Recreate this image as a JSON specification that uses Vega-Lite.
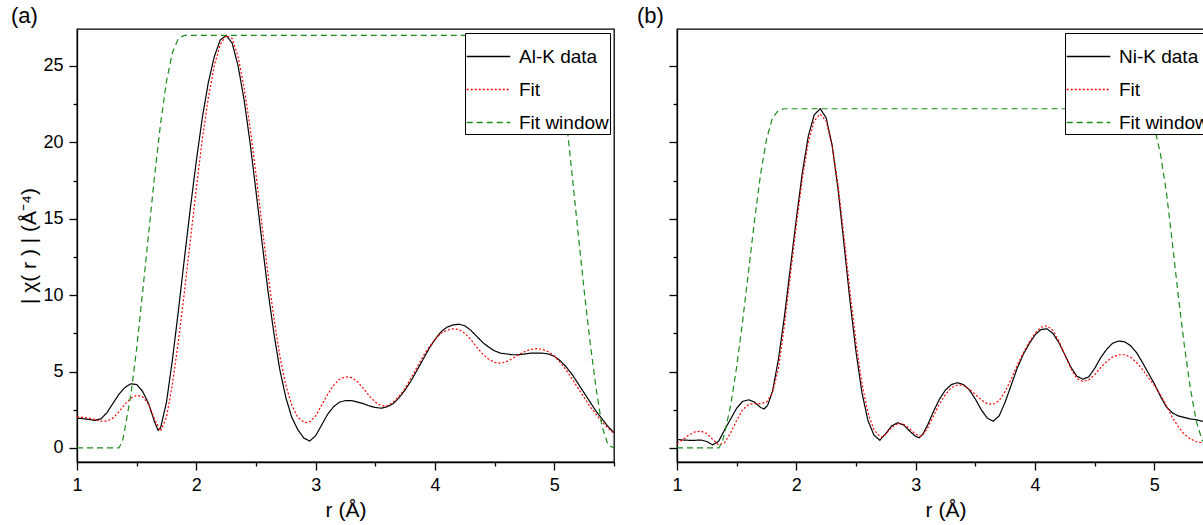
{
  "$schema": "https://vega.github.io/schema/vega-lite/v6.json",
  "padding": {"left": 10, "top": 4, "right": 0, "bottom": 0},
  "background": "white",
  "config": {
    "font": "Liberation Sans",
    "view": {"stroke": "#000", "strokeWidth": 1.3},
    "axis": {"domainColor": "#000", "domainWidth": 1.3, "tickColor": "#000", "tickWidth": 1.3, "labelColor": "#000", "labelFontSize": 18, "labelPadding": 6, "titleFontSize": 21, "titleFontWeight": "normal", "titleColor": "#000", "grid": false, "labelOverlap": false, "labelFlush": false},
    "title": {"fontSize": 22, "fontWeight": "normal", "color": "#000", "anchor": "start", "frame": "group"}
  },
  "spacing": 20,
  "resolve": {"scale": {"color": "independent", "strokeDash": "independent"}, "legend": {"color": "independent", "strokeDash": "independent"}},
  "datasets": {
    "al": [
      {"s": "Al-K data", "r": 1.00, "v": 1.95}, {"s": "Al-K data", "r": 1.05, "v": 1.92}, {"s": "Al-K data", "r": 1.10, "v": 1.86}, {"s": "Al-K data", "r": 1.15, "v": 1.81}, {"s": "Al-K data", "r": 1.20, "v": 1.9}, {"s": "Al-K data", "r": 1.25, "v": 2.3}, {"s": "Al-K data", "r": 1.30, "v": 2.9}, {"s": "Al-K data", "r": 1.35, "v": 3.5}, {"s": "Al-K data", "r": 1.40, "v": 3.95}, {"s": "Al-K data", "r": 1.45, "v": 4.2}, {"s": "Al-K data", "r": 1.50, "v": 4.15}, {"s": "Al-K data", "r": 1.55, "v": 3.7}, {"s": "Al-K data", "r": 1.60, "v": 2.9}, {"s": "Al-K data", "r": 1.65, "v": 1.7}, {"s": "Al-K data", "r": 1.68, "v": 1.15}, {"s": "Al-K data", "r": 1.70, "v": 1.3}, {"s": "Al-K data", "r": 1.75, "v": 3.0}, {"s": "Al-K data", "r": 1.80, "v": 5.8}, {"s": "Al-K data", "r": 1.85, "v": 9.0}, {"s": "Al-K data", "r": 1.90, "v": 12.4}, {"s": "Al-K data", "r": 1.95, "v": 15.7}, {"s": "Al-K data", "r": 2.00, "v": 18.8}, {"s": "Al-K data", "r": 2.05, "v": 21.6}, {"s": "Al-K data", "r": 2.10, "v": 23.9}, {"s": "Al-K data", "r": 2.15, "v": 25.6}, {"s": "Al-K data", "r": 2.20, "v": 26.7}, {"s": "Al-K data", "r": 2.25, "v": 27.0}, {"s": "Al-K data", "r": 2.30, "v": 26.5}, {"s": "Al-K data", "r": 2.35, "v": 25.0}, {"s": "Al-K data", "r": 2.40, "v": 22.8}, {"s": "Al-K data", "r": 2.45, "v": 20.0}, {"s": "Al-K data", "r": 2.50, "v": 16.8}, {"s": "Al-K data", "r": 2.55, "v": 13.5}, {"s": "Al-K data", "r": 2.60, "v": 10.3}, {"s": "Al-K data", "r": 2.65, "v": 7.5}, {"s": "Al-K data", "r": 2.70, "v": 5.1}, {"s": "Al-K data", "r": 2.75, "v": 3.3}, {"s": "Al-K data", "r": 2.80, "v": 2.0}, {"s": "Al-K data", "r": 2.85, "v": 1.2}, {"s": "Al-K data", "r": 2.90, "v": 0.65}, {"s": "Al-K data", "r": 2.95, "v": 0.45}, {"s": "Al-K data", "r": 3.00, "v": 0.8}, {"s": "Al-K data", "r": 3.05, "v": 1.5}, {"s": "Al-K data", "r": 3.10, "v": 2.2}, {"s": "Al-K data", "r": 3.15, "v": 2.7}, {"s": "Al-K data", "r": 3.20, "v": 3.0}, {"s": "Al-K data", "r": 3.25, "v": 3.1}, {"s": "Al-K data", "r": 3.30, "v": 3.1}, {"s": "Al-K data", "r": 3.35, "v": 3.0}, {"s": "Al-K data", "r": 3.40, "v": 2.9}, {"s": "Al-K data", "r": 3.45, "v": 2.75}, {"s": "Al-K data", "r": 3.50, "v": 2.65}, {"s": "Al-K data", "r": 3.55, "v": 2.6}, {"s": "Al-K data", "r": 3.60, "v": 2.7}, {"s": "Al-K data", "r": 3.65, "v": 2.9}, {"s": "Al-K data", "r": 3.70, "v": 3.3}, {"s": "Al-K data", "r": 3.75, "v": 3.8}, {"s": "Al-K data", "r": 3.80, "v": 4.4}, {"s": "Al-K data", "r": 3.85, "v": 5.1}, {"s": "Al-K data", "r": 3.90, "v": 5.8}, {"s": "Al-K data", "r": 3.95, "v": 6.5}, {"s": "Al-K data", "r": 4.00, "v": 7.1}, {"s": "Al-K data", "r": 4.05, "v": 7.6}, {"s": "Al-K data", "r": 4.10, "v": 7.9}, {"s": "Al-K data", "r": 4.15, "v": 8.05}, {"s": "Al-K data", "r": 4.20, "v": 8.1}, {"s": "Al-K data", "r": 4.25, "v": 8.0}, {"s": "Al-K data", "r": 4.30, "v": 7.7}, {"s": "Al-K data", "r": 4.35, "v": 7.3}, {"s": "Al-K data", "r": 4.40, "v": 6.9}, {"s": "Al-K data", "r": 4.45, "v": 6.6}, {"s": "Al-K data", "r": 4.50, "v": 6.35}, {"s": "Al-K data", "r": 4.55, "v": 6.2}, {"s": "Al-K data", "r": 4.60, "v": 6.15}, {"s": "Al-K data", "r": 4.65, "v": 6.1}, {"s": "Al-K data", "r": 4.70, "v": 6.1}, {"s": "Al-K data", "r": 4.75, "v": 6.15}, {"s": "Al-K data", "r": 4.80, "v": 6.2}, {"s": "Al-K data", "r": 4.85, "v": 6.2}, {"s": "Al-K data", "r": 4.90, "v": 6.2}, {"s": "Al-K data", "r": 4.95, "v": 6.15}, {"s": "Al-K data", "r": 5.00, "v": 6.0}, {"s": "Al-K data", "r": 5.05, "v": 5.7}, {"s": "Al-K data", "r": 5.10, "v": 5.3}, {"s": "Al-K data", "r": 5.15, "v": 4.8}, {"s": "Al-K data", "r": 5.20, "v": 4.2}, {"s": "Al-K data", "r": 5.25, "v": 3.6}, {"s": "Al-K data", "r": 5.30, "v": 3.0}, {"s": "Al-K data", "r": 5.35, "v": 2.4}, {"s": "Al-K data", "r": 5.40, "v": 1.9}, {"s": "Al-K data", "r": 5.45, "v": 1.4}, {"s": "Al-K data", "r": 5.50, "v": 1.0},
      {"s": "Fit", "r": 1.00, "v": 2.05}, {"s": "Fit", "r": 1.05, "v": 2.0}, {"s": "Fit", "r": 1.10, "v": 1.95}, {"s": "Fit", "r": 1.15, "v": 1.85}, {"s": "Fit", "r": 1.20, "v": 1.75}, {"s": "Fit", "r": 1.25, "v": 1.75}, {"s": "Fit", "r": 1.30, "v": 1.95}, {"s": "Fit", "r": 1.35, "v": 2.35}, {"s": "Fit", "r": 1.40, "v": 2.85}, {"s": "Fit", "r": 1.45, "v": 3.25}, {"s": "Fit", "r": 1.50, "v": 3.45}, {"s": "Fit", "r": 1.55, "v": 3.35}, {"s": "Fit", "r": 1.60, "v": 2.85}, {"s": "Fit", "r": 1.65, "v": 1.9}, {"s": "Fit", "r": 1.70, "v": 1.1}, {"s": "Fit", "r": 1.75, "v": 2.0}, {"s": "Fit", "r": 1.80, "v": 4.2}, {"s": "Fit", "r": 1.85, "v": 7.0}, {"s": "Fit", "r": 1.90, "v": 10.2}, {"s": "Fit", "r": 1.95, "v": 13.6}, {"s": "Fit", "r": 2.00, "v": 17.0}, {"s": "Fit", "r": 2.05, "v": 20.2}, {"s": "Fit", "r": 2.10, "v": 22.9}, {"s": "Fit", "r": 2.15, "v": 25.0}, {"s": "Fit", "r": 2.20, "v": 26.4}, {"s": "Fit", "r": 2.25, "v": 27.0}, {"s": "Fit", "r": 2.30, "v": 26.8}, {"s": "Fit", "r": 2.35, "v": 25.6}, {"s": "Fit", "r": 2.40, "v": 23.6}, {"s": "Fit", "r": 2.45, "v": 21.0}, {"s": "Fit", "r": 2.50, "v": 17.9}, {"s": "Fit", "r": 2.55, "v": 14.6}, {"s": "Fit", "r": 2.60, "v": 11.4}, {"s": "Fit", "r": 2.65, "v": 8.5}, {"s": "Fit", "r": 2.70, "v": 6.0}, {"s": "Fit", "r": 2.75, "v": 4.1}, {"s": "Fit", "r": 2.80, "v": 2.8}, {"s": "Fit", "r": 2.85, "v": 2.0}, {"s": "Fit", "r": 2.90, "v": 1.7}, {"s": "Fit", "r": 2.93, "v": 1.65}, {"s": "Fit", "r": 2.96, "v": 1.75}, {"s": "Fit", "r": 3.00, "v": 2.1}, {"s": "Fit", "r": 3.05, "v": 2.8}, {"s": "Fit", "r": 3.10, "v": 3.5}, {"s": "Fit", "r": 3.15, "v": 4.1}, {"s": "Fit", "r": 3.20, "v": 4.5}, {"s": "Fit", "r": 3.25, "v": 4.65}, {"s": "Fit", "r": 3.30, "v": 4.6}, {"s": "Fit", "r": 3.35, "v": 4.35}, {"s": "Fit", "r": 3.40, "v": 3.9}, {"s": "Fit", "r": 3.45, "v": 3.4}, {"s": "Fit", "r": 3.50, "v": 3.0}, {"s": "Fit", "r": 3.55, "v": 2.75}, {"s": "Fit", "r": 3.60, "v": 2.75}, {"s": "Fit", "r": 3.65, "v": 3.0}, {"s": "Fit", "r": 3.70, "v": 3.4}, {"s": "Fit", "r": 3.75, "v": 3.9}, {"s": "Fit", "r": 3.80, "v": 4.6}, {"s": "Fit", "r": 3.85, "v": 5.3}, {"s": "Fit", "r": 3.90, "v": 6.0}, {"s": "Fit", "r": 3.95, "v": 6.6}, {"s": "Fit", "r": 4.00, "v": 7.1}, {"s": "Fit", "r": 4.05, "v": 7.5}, {"s": "Fit", "r": 4.10, "v": 7.7}, {"s": "Fit", "r": 4.15, "v": 7.8}, {"s": "Fit", "r": 4.20, "v": 7.75}, {"s": "Fit", "r": 4.25, "v": 7.5}, {"s": "Fit", "r": 4.30, "v": 7.1}, {"s": "Fit", "r": 4.35, "v": 6.6}, {"s": "Fit", "r": 4.40, "v": 6.15}, {"s": "Fit", "r": 4.45, "v": 5.8}, {"s": "Fit", "r": 4.50, "v": 5.6}, {"s": "Fit", "r": 4.55, "v": 5.55}, {"s": "Fit", "r": 4.60, "v": 5.65}, {"s": "Fit", "r": 4.65, "v": 5.85}, {"s": "Fit", "r": 4.70, "v": 6.1}, {"s": "Fit", "r": 4.75, "v": 6.3}, {"s": "Fit", "r": 4.80, "v": 6.45}, {"s": "Fit", "r": 4.85, "v": 6.5}, {"s": "Fit", "r": 4.90, "v": 6.45}, {"s": "Fit", "r": 4.95, "v": 6.3}, {"s": "Fit", "r": 5.00, "v": 6.0}, {"s": "Fit", "r": 5.05, "v": 5.6}, {"s": "Fit", "r": 5.10, "v": 5.1}, {"s": "Fit", "r": 5.15, "v": 4.5}, {"s": "Fit", "r": 5.20, "v": 3.9}, {"s": "Fit", "r": 5.25, "v": 3.3}, {"s": "Fit", "r": 5.30, "v": 2.7}, {"s": "Fit", "r": 5.35, "v": 2.2}, {"s": "Fit", "r": 5.40, "v": 1.7}, {"s": "Fit", "r": 5.45, "v": 1.3}, {"s": "Fit", "r": 5.50, "v": 0.95},
      {"s": "Fit window", "r": 1.00, "v": 0}, {"s": "Fit window", "r": 1.35, "v": 0}, {"s": "Fit window", "r": 1.38, "v": 0.4}, {"s": "Fit window", "r": 1.40, "v": 1.2}, {"s": "Fit window", "r": 1.45, "v": 3.4}, {"s": "Fit window", "r": 1.50, "v": 6.5}, {"s": "Fit window", "r": 1.55, "v": 10.2}, {"s": "Fit window", "r": 1.60, "v": 14.0}, {"s": "Fit window", "r": 1.65, "v": 17.8}, {"s": "Fit window", "r": 1.70, "v": 21.2}, {"s": "Fit window", "r": 1.75, "v": 24.0}, {"s": "Fit window", "r": 1.80, "v": 25.9}, {"s": "Fit window", "r": 1.85, "v": 26.8}, {"s": "Fit window", "r": 1.90, "v": 27.0}, {"s": "Fit window", "r": 5.00, "v": 27.0}, {"s": "Fit window", "r": 5.02, "v": 26.8}, {"s": "Fit window", "r": 5.05, "v": 25.8}, {"s": "Fit window", "r": 5.10, "v": 21.5}, {"s": "Fit window", "r": 5.15, "v": 17.8}, {"s": "Fit window", "r": 5.20, "v": 14.0}, {"s": "Fit window", "r": 5.25, "v": 10.3}, {"s": "Fit window", "r": 5.30, "v": 6.9}, {"s": "Fit window", "r": 5.35, "v": 3.9}, {"s": "Fit window", "r": 5.40, "v": 1.4}, {"s": "Fit window", "r": 5.45, "v": 0.2}, {"s": "Fit window", "r": 5.50, "v": 0}
    ],
    "ni": [
      {"s": "Ni-K data", "r": 1.00, "v": 0.55}, {"s": "Ni-K data", "r": 1.05, "v": 0.52}, {"s": "Ni-K data", "r": 1.10, "v": 0.5}, {"s": "Ni-K data", "r": 1.15, "v": 0.5}, {"s": "Ni-K data", "r": 1.20, "v": 0.52}, {"s": "Ni-K data", "r": 1.25, "v": 0.42}, {"s": "Ni-K data", "r": 1.30, "v": 0.2}, {"s": "Ni-K data", "r": 1.35, "v": 0.45}, {"s": "Ni-K data", "r": 1.40, "v": 1.2}, {"s": "Ni-K data", "r": 1.45, "v": 1.9}, {"s": "Ni-K data", "r": 1.50, "v": 2.6}, {"s": "Ni-K data", "r": 1.55, "v": 3.05}, {"s": "Ni-K data", "r": 1.60, "v": 3.15}, {"s": "Ni-K data", "r": 1.65, "v": 3.0}, {"s": "Ni-K data", "r": 1.70, "v": 2.65}, {"s": "Ni-K data", "r": 1.73, "v": 2.55}, {"s": "Ni-K data", "r": 1.76, "v": 2.8}, {"s": "Ni-K data", "r": 1.80, "v": 3.7}, {"s": "Ni-K data", "r": 1.85, "v": 5.8}, {"s": "Ni-K data", "r": 1.90, "v": 8.6}, {"s": "Ni-K data", "r": 1.95, "v": 11.8}, {"s": "Ni-K data", "r": 2.00, "v": 15.0}, {"s": "Ni-K data", "r": 2.05, "v": 18.0}, {"s": "Ni-K data", "r": 2.10, "v": 20.4}, {"s": "Ni-K data", "r": 2.15, "v": 21.8}, {"s": "Ni-K data", "r": 2.20, "v": 22.2}, {"s": "Ni-K data", "r": 2.25, "v": 21.6}, {"s": "Ni-K data", "r": 2.30, "v": 19.8}, {"s": "Ni-K data", "r": 2.35, "v": 16.9}, {"s": "Ni-K data", "r": 2.40, "v": 13.3}, {"s": "Ni-K data", "r": 2.45, "v": 9.6}, {"s": "Ni-K data", "r": 2.50, "v": 6.3}, {"s": "Ni-K data", "r": 2.55, "v": 3.6}, {"s": "Ni-K data", "r": 2.60, "v": 1.8}, {"s": "Ni-K data", "r": 2.65, "v": 0.85}, {"s": "Ni-K data", "r": 2.70, "v": 0.5}, {"s": "Ni-K data", "r": 2.75, "v": 0.95}, {"s": "Ni-K data", "r": 2.80, "v": 1.45}, {"s": "Ni-K data", "r": 2.85, "v": 1.65}, {"s": "Ni-K data", "r": 2.90, "v": 1.5}, {"s": "Ni-K data", "r": 2.95, "v": 1.1}, {"s": "Ni-K data", "r": 3.00, "v": 0.75}, {"s": "Ni-K data", "r": 3.03, "v": 0.67}, {"s": "Ni-K data", "r": 3.06, "v": 0.9}, {"s": "Ni-K data", "r": 3.10, "v": 1.5}, {"s": "Ni-K data", "r": 3.15, "v": 2.4}, {"s": "Ni-K data", "r": 3.20, "v": 3.2}, {"s": "Ni-K data", "r": 3.25, "v": 3.8}, {"s": "Ni-K data", "r": 3.30, "v": 4.15}, {"s": "Ni-K data", "r": 3.35, "v": 4.27}, {"s": "Ni-K data", "r": 3.40, "v": 4.15}, {"s": "Ni-K data", "r": 3.45, "v": 3.8}, {"s": "Ni-K data", "r": 3.50, "v": 3.2}, {"s": "Ni-K data", "r": 3.55, "v": 2.5}, {"s": "Ni-K data", "r": 3.60, "v": 1.95}, {"s": "Ni-K data", "r": 3.65, "v": 1.75}, {"s": "Ni-K data", "r": 3.70, "v": 2.1}, {"s": "Ni-K data", "r": 3.75, "v": 3.0}, {"s": "Ni-K data", "r": 3.80, "v": 4.1}, {"s": "Ni-K data", "r": 3.85, "v": 5.2}, {"s": "Ni-K data", "r": 3.90, "v": 6.1}, {"s": "Ni-K data", "r": 3.95, "v": 6.8}, {"s": "Ni-K data", "r": 4.00, "v": 7.4}, {"s": "Ni-K data", "r": 4.05, "v": 7.75}, {"s": "Ni-K data", "r": 4.10, "v": 7.8}, {"s": "Ni-K data", "r": 4.15, "v": 7.5}, {"s": "Ni-K data", "r": 4.20, "v": 6.9}, {"s": "Ni-K data", "r": 4.25, "v": 6.1}, {"s": "Ni-K data", "r": 4.30, "v": 5.3}, {"s": "Ni-K data", "r": 4.35, "v": 4.7}, {"s": "Ni-K data", "r": 4.40, "v": 4.5}, {"s": "Ni-K data", "r": 4.45, "v": 4.65}, {"s": "Ni-K data", "r": 4.50, "v": 5.2}, {"s": "Ni-K data", "r": 4.55, "v": 5.9}, {"s": "Ni-K data", "r": 4.60, "v": 6.45}, {"s": "Ni-K data", "r": 4.65, "v": 6.85}, {"s": "Ni-K data", "r": 4.70, "v": 7.0}, {"s": "Ni-K data", "r": 4.75, "v": 6.95}, {"s": "Ni-K data", "r": 4.80, "v": 6.7}, {"s": "Ni-K data", "r": 4.85, "v": 6.25}, {"s": "Ni-K data", "r": 4.90, "v": 5.6}, {"s": "Ni-K data", "r": 4.95, "v": 4.9}, {"s": "Ni-K data", "r": 5.00, "v": 4.2}, {"s": "Ni-K data", "r": 5.05, "v": 3.4}, {"s": "Ni-K data", "r": 5.10, "v": 2.7}, {"s": "Ni-K data", "r": 5.15, "v": 2.3}, {"s": "Ni-K data", "r": 5.20, "v": 2.1}, {"s": "Ni-K data", "r": 5.25, "v": 2.0}, {"s": "Ni-K data", "r": 5.30, "v": 1.9}, {"s": "Ni-K data", "r": 5.35, "v": 1.85}, {"s": "Ni-K data", "r": 5.40, "v": 1.75}, {"s": "Ni-K data", "r": 5.45, "v": 1.7}, {"s": "Ni-K data", "r": 5.50, "v": 1.6},
      {"s": "Fit", "r": 1.00, "v": 0.3}, {"s": "Fit", "r": 1.05, "v": 0.55}, {"s": "Fit", "r": 1.10, "v": 0.85}, {"s": "Fit", "r": 1.15, "v": 1.05}, {"s": "Fit", "r": 1.20, "v": 1.1}, {"s": "Fit", "r": 1.25, "v": 0.95}, {"s": "Fit", "r": 1.30, "v": 0.55}, {"s": "Fit", "r": 1.35, "v": 0.2}, {"s": "Fit", "r": 1.40, "v": 0.35}, {"s": "Fit", "r": 1.45, "v": 1.0}, {"s": "Fit", "r": 1.50, "v": 1.8}, {"s": "Fit", "r": 1.55, "v": 2.5}, {"s": "Fit", "r": 1.60, "v": 2.85}, {"s": "Fit", "r": 1.65, "v": 2.9}, {"s": "Fit", "r": 1.70, "v": 2.9}, {"s": "Fit", "r": 1.75, "v": 3.0}, {"s": "Fit", "r": 1.80, "v": 3.6}, {"s": "Fit", "r": 1.85, "v": 5.2}, {"s": "Fit", "r": 1.90, "v": 8.0}, {"s": "Fit", "r": 1.95, "v": 11.3}, {"s": "Fit", "r": 2.00, "v": 14.6}, {"s": "Fit", "r": 2.05, "v": 17.6}, {"s": "Fit", "r": 2.10, "v": 20.0}, {"s": "Fit", "r": 2.15, "v": 21.4}, {"s": "Fit", "r": 2.20, "v": 21.85}, {"s": "Fit", "r": 2.25, "v": 21.4}, {"s": "Fit", "r": 2.30, "v": 19.8}, {"s": "Fit", "r": 2.35, "v": 17.2}, {"s": "Fit", "r": 2.40, "v": 13.8}, {"s": "Fit", "r": 2.45, "v": 10.2}, {"s": "Fit", "r": 2.50, "v": 6.9}, {"s": "Fit", "r": 2.55, "v": 4.2}, {"s": "Fit", "r": 2.60, "v": 2.3}, {"s": "Fit", "r": 2.65, "v": 1.2}, {"s": "Fit", "r": 2.70, "v": 0.75}, {"s": "Fit", "r": 2.72, "v": 0.7}, {"s": "Fit", "r": 2.75, "v": 0.9}, {"s": "Fit", "r": 2.80, "v": 1.35}, {"s": "Fit", "r": 2.85, "v": 1.6}, {"s": "Fit", "r": 2.90, "v": 1.55}, {"s": "Fit", "r": 2.95, "v": 1.25}, {"s": "Fit", "r": 3.00, "v": 0.9}, {"s": "Fit", "r": 3.04, "v": 0.76}, {"s": "Fit", "r": 3.07, "v": 0.95}, {"s": "Fit", "r": 3.10, "v": 1.3}, {"s": "Fit", "r": 3.15, "v": 2.1}, {"s": "Fit", "r": 3.20, "v": 2.9}, {"s": "Fit", "r": 3.25, "v": 3.5}, {"s": "Fit", "r": 3.30, "v": 3.95}, {"s": "Fit", "r": 3.35, "v": 4.12}, {"s": "Fit", "r": 3.40, "v": 4.1}, {"s": "Fit", "r": 3.45, "v": 3.85}, {"s": "Fit", "r": 3.50, "v": 3.5}, {"s": "Fit", "r": 3.55, "v": 3.15}, {"s": "Fit", "r": 3.60, "v": 2.9}, {"s": "Fit", "r": 3.65, "v": 2.86}, {"s": "Fit", "r": 3.70, "v": 3.1}, {"s": "Fit", "r": 3.75, "v": 3.7}, {"s": "Fit", "r": 3.80, "v": 4.5}, {"s": "Fit", "r": 3.85, "v": 5.4}, {"s": "Fit", "r": 3.90, "v": 6.2}, {"s": "Fit", "r": 3.95, "v": 6.9}, {"s": "Fit", "r": 4.00, "v": 7.5}, {"s": "Fit", "r": 4.05, "v": 7.9}, {"s": "Fit", "r": 4.10, "v": 8.0}, {"s": "Fit", "r": 4.15, "v": 7.7}, {"s": "Fit", "r": 4.20, "v": 7.0}, {"s": "Fit", "r": 4.25, "v": 6.1}, {"s": "Fit", "r": 4.30, "v": 5.2}, {"s": "Fit", "r": 4.35, "v": 4.55}, {"s": "Fit", "r": 4.40, "v": 4.35}, {"s": "Fit", "r": 4.45, "v": 4.45}, {"s": "Fit", "r": 4.50, "v": 4.8}, {"s": "Fit", "r": 4.55, "v": 5.25}, {"s": "Fit", "r": 4.60, "v": 5.65}, {"s": "Fit", "r": 4.65, "v": 5.95}, {"s": "Fit", "r": 4.70, "v": 6.1}, {"s": "Fit", "r": 4.75, "v": 6.1}, {"s": "Fit", "r": 4.80, "v": 5.95}, {"s": "Fit", "r": 4.85, "v": 5.6}, {"s": "Fit", "r": 4.90, "v": 5.15}, {"s": "Fit", "r": 4.95, "v": 4.6}, {"s": "Fit", "r": 5.00, "v": 4.1}, {"s": "Fit", "r": 5.05, "v": 3.5}, {"s": "Fit", "r": 5.10, "v": 2.8}, {"s": "Fit", "r": 5.15, "v": 2.0}, {"s": "Fit", "r": 5.20, "v": 1.4}, {"s": "Fit", "r": 5.25, "v": 0.9}, {"s": "Fit", "r": 5.30, "v": 0.6}, {"s": "Fit", "r": 5.35, "v": 0.42}, {"s": "Fit", "r": 5.40, "v": 0.33}, {"s": "Fit", "r": 5.45, "v": 0.3}, {"s": "Fit", "r": 5.50, "v": 0.3},
      {"s": "Fit window", "r": 1.00, "v": 0}, {"s": "Fit window", "r": 1.35, "v": 0}, {"s": "Fit window", "r": 1.38, "v": 0.4}, {"s": "Fit window", "r": 1.40, "v": 1.0}, {"s": "Fit window", "r": 1.45, "v": 2.8}, {"s": "Fit window", "r": 1.50, "v": 5.3}, {"s": "Fit window", "r": 1.55, "v": 8.3}, {"s": "Fit window", "r": 1.60, "v": 11.6}, {"s": "Fit window", "r": 1.65, "v": 14.9}, {"s": "Fit window", "r": 1.70, "v": 17.9}, {"s": "Fit window", "r": 1.75, "v": 20.2}, {"s": "Fit window", "r": 1.80, "v": 21.6}, {"s": "Fit window", "r": 1.85, "v": 22.1}, {"s": "Fit window", "r": 1.90, "v": 22.2}, {"s": "Fit window", "r": 4.90, "v": 22.2}, {"s": "Fit window", "r": 4.95, "v": 21.9}, {"s": "Fit window", "r": 5.00, "v": 21.0}, {"s": "Fit window", "r": 5.05, "v": 19.3}, {"s": "Fit window", "r": 5.10, "v": 16.8}, {"s": "Fit window", "r": 5.15, "v": 13.5}, {"s": "Fit window", "r": 5.20, "v": 10.0}, {"s": "Fit window", "r": 5.25, "v": 6.8}, {"s": "Fit window", "r": 5.30, "v": 4.0}, {"s": "Fit window", "r": 5.35, "v": 1.8}, {"s": "Fit window", "r": 5.40, "v": 0.5}, {"s": "Fit window", "r": 5.45, "v": 0.05}, {"s": "Fit window", "r": 5.50, "v": 0}
    ]
  },
  "hconcat": [
    {
      "width": 537,
      "height": 433,
      "title": {"text": "(a)", "dx": -66, "offset": 1},
      "data": {"name": "al"},
      "mark": {"type": "line", "clip": true, "strokeWidth": 1.2},
      "encoding": {
        "x": {"field": "r", "type": "quantitative", "scale": {"domain": [1, 5.5], "nice": false, "zero": false},
          "axis": {"title": "r (Å)", "values": [1, 1.5, 2, 2.5, 3, 3.5, 4, 4.5, 5, 5.5], "labelExpr": "datum.value % 1 === 0 ? '' + datum.value : ''", "tickSize": {"condition": {"test": "datum.value % 1 === 0", "value": 8}, "value": 4}, "labelPadding": 6, "titlePadding": 5}},
        "y": {"field": "v", "type": "quantitative", "scale": {"domain": [-0.92, 27.42], "nice": false, "zero": false},
          "axis": {"title": "| χ( r ) | (Å⁻⁴)", "values": [0, 2.5, 5, 7.5, 10, 12.5, 15, 17.5, 20, 22.5, 25], "labelExpr": "datum.value % 5 === 0 ? '' + datum.value : ''", "tickSize": {"condition": {"test": "datum.value % 5 === 0", "value": 8}, "value": 4}, "labelPadding": 6, "titlePadding": 3}},
        "color": {"field": "s", "type": "nominal", "sort": null, "scale": {"domain": ["Al-K data", "Fit", "Fit window"], "range": ["#000000", "#ff0000", "#1a8c1a"]},
          "legend": {"title": null, "orient": "top-right", "offset": 4, "strokeColor": "#000", "fillColor": "#fff", "padding": 1, "cornerRadius": 0, "symbolType": "stroke", "symbolSize": 1900, "symbolStrokeWidth": 1.3, "labelFontSize": 19, "labelColor": "#000", "labelOffset": 8, "rowPadding": -8, "labelLimit": 300}},
        "strokeDash": {"field": "s", "type": "nominal", "sort": null, "scale": {"domain": ["Al-K data", "Fit", "Fit window"], "range": [[1, 0], [2, 2], [6, 4]]},
          "legend": {"title": null, "orient": "top-right", "offset": 4, "strokeColor": "#000", "fillColor": "#fff", "padding": 1, "cornerRadius": 0, "symbolType": "stroke", "symbolSize": 1900, "symbolStrokeWidth": 1.3, "labelFontSize": 19, "labelColor": "#000", "labelOffset": 8, "rowPadding": -8, "labelLimit": 300}}
      }
    },
    {
      "width": 537,
      "height": 433,
      "title": {"text": "(b)", "dx": -40, "offset": 1},
      "data": {"name": "ni"},
      "mark": {"type": "line", "clip": true, "strokeWidth": 1.2},
      "encoding": {
        "x": {"field": "r", "type": "quantitative", "scale": {"domain": [1, 5.5], "nice": false, "zero": false},
          "axis": {"title": "r (Å)", "values": [1, 1.5, 2, 2.5, 3, 3.5, 4, 4.5, 5, 5.5], "labelExpr": "datum.value % 1 === 0 ? '' + datum.value : ''", "tickSize": {"condition": {"test": "datum.value % 1 === 0", "value": 8}, "value": 4}, "labelPadding": 6, "titlePadding": 5}},
        "y": {"field": "v", "type": "quantitative", "scale": {"domain": [-0.92, 27.42], "nice": false, "zero": false},
          "axis": {"title": null, "labels": false, "values": [0, 2.5, 5, 7.5, 10, 12.5, 15, 17.5, 20, 22.5, 25], "tickSize": {"condition": {"test": "datum.value % 5 === 0", "value": 8}, "value": 4}}},
        "color": {"field": "s", "type": "nominal", "sort": null, "scale": {"domain": ["Ni-K data", "Fit", "Fit window"], "range": ["#000000", "#ff0000", "#1a8c1a"]},
          "legend": {"title": null, "orient": "top-right", "offset": 4, "strokeColor": "#000", "fillColor": "#fff", "padding": 1, "cornerRadius": 0, "symbolType": "stroke", "symbolSize": 1900, "symbolStrokeWidth": 1.3, "labelFontSize": 19, "labelColor": "#000", "labelOffset": 8, "rowPadding": -8, "labelLimit": 300}},
        "strokeDash": {"field": "s", "type": "nominal", "sort": null, "scale": {"domain": ["Ni-K data", "Fit", "Fit window"], "range": [[1, 0], [2, 2], [6, 4]]},
          "legend": {"title": null, "orient": "top-right", "offset": 4, "strokeColor": "#000", "fillColor": "#fff", "padding": 1, "cornerRadius": 0, "symbolType": "stroke", "symbolSize": 1900, "symbolStrokeWidth": 1.3, "labelFontSize": 19, "labelColor": "#000", "labelOffset": 8, "rowPadding": -8, "labelLimit": 300}}
      }
    }
  ]
}
